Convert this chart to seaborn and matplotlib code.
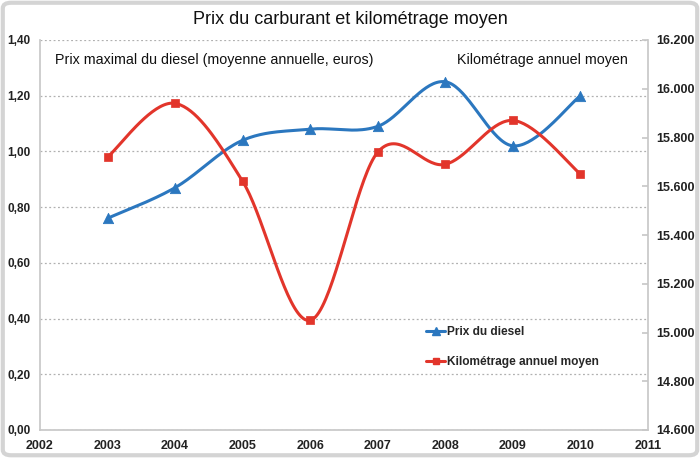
import numpy as np
import pandas as pd
import matplotlib
matplotlib.use("Agg")
import matplotlib.pyplot as plt
import seaborn as sns
from matplotlib.lines import Line2D
from matplotlib.patches import FancyBboxPatch
from matplotlib.ticker import FuncFormatter, MultipleLocator

years = [2003, 2004, 2005, 2006, 2007, 2008, 2009, 2010]
diesel_price = [0.76, 0.87, 1.04, 1.08, 1.09, 1.25, 1.02, 1.20]
km_moyen = [15720, 15940, 15620, 15050, 15740, 15690, 15870, 15650]

title = "Prix du carburant et kilométrage moyen"
left_label = "Prix maximal du diesel (moyenne annuelle, euros)"
right_label = "Kilométrage annuel moyen"
series_names = ["Prix du diesel", "Kilométrage annuel moyen"]

BLUE = "#2b77bf"
RED = "#e2352b"

sns.set_theme(style="white")
FAM = ['Liberation Sans', 'DejaVu Sans']
plt.rcParams['font.family'] = FAM


def smooth(xs, ys, n=40):
    x = np.asarray(xs, float)
    y = np.asarray(ys, float)
    P = np.column_stack([x, y])
    m = len(P)
    out = []
    t = np.linspace(0, 1, n)[:, None]
    for i in range(m - 1):
        p0 = P[max(i - 1, 0)]
        p1 = P[i]
        p2 = P[i + 1]
        p3 = P[min(i + 2, m - 1)]
        c1 = p1 + (p2 - p0) / 6
        c2 = p2 - (p3 - p1) / 6
        seg = ((1 - t) ** 3) * p1 + 3 * ((1 - t) ** 2) * t * c1 + 3 * (1 - t) * t ** 2 * c2 + t ** 3 * p2
        out.append(seg if i == 0 else seg[1:])
    s = np.vstack(out)
    return s[:, 0], s[:, 1]


fig = plt.figure(figsize=(7, 4.58), dpi=100)
fig.patch.set_facecolor("white")
border = FancyBboxPatch((0.004, 0.006), 0.992, 0.988, boxstyle="round,pad=0,rounding_size=0.012",
                        transform=fig.transFigure, fill=False, edgecolor="#d4d4d4", linewidth=3)
fig.patches.append(border)

ax = fig.add_axes([40 / 700, 28 / 458, 608 / 700, 390 / 458])
ax2 = ax.twinx()

# Diesel (left axis)
sx, sy = smooth(years, diesel_price)
sns.lineplot(x=sx, y=sy, ax=ax, color=BLUE, linewidth=2.2, sort=False, estimator=None)
sns.scatterplot(x=years, y=diesel_price, ax=ax, color=BLUE, marker="^", s=55, edgecolor=BLUE, zorder=5)

# Km (right axis)
kx, ky = smooth(years, km_moyen)
sns.lineplot(x=kx, y=ky, ax=ax2, color=RED, linewidth=2.2, sort=False, estimator=None)
sns.scatterplot(x=years, y=km_moyen, ax=ax2, color=RED, marker="s", s=40, edgecolor=RED, zorder=5)

ax.set_xlim(2002, 2011)
ax.set_ylim(0, 1.4)
ax2.set_ylim(14600, 16200)
ax.xaxis.set_major_locator(MultipleLocator(1))
ax.yaxis.set_major_locator(MultipleLocator(0.2))
ax2.yaxis.set_major_locator(MultipleLocator(200))
ax.yaxis.set_major_formatter(FuncFormatter(lambda v, p: f"{v:.2f}".replace(".", ",")))
ax2.yaxis.set_major_formatter(FuncFormatter(lambda v, p: f"{v/1000:.3f}"))
ax.xaxis.set_major_formatter(FuncFormatter(lambda v, p: f"{int(round(v))}"))

ax.grid(axis="y", color="#b0b0b0", linestyle=(0, (1.5, 2)), linewidth=0.9)
ax.set_axisbelow(True)

for a in (ax, ax2):
    for sp in a.spines.values():
        sp.set_visible(False)
    a.set_xlabel("")
    a.set_ylabel("")
ax.spines["bottom"].set_visible(True)
ax.spines["bottom"].set_color("#c8c8c8")
ax.spines["left"].set_visible(True)
ax.spines["left"].set_color("#c8c8c8")
ax2.spines["right"].set_visible(True)
ax2.spines["right"].set_color("#c8c8c8")

ax.tick_params(axis="x", direction="in", length=4, color="#c8c8c8", pad=7, labelsize=9)
ax.tick_params(axis="y", length=0, pad=7, labelsize=8.5)
ax2.tick_params(axis="y", direction="in", length=4, color="#c8c8c8", pad=6, labelsize=9)
for lbl in ax.get_xticklabels() + ax.get_yticklabels() + ax2.get_yticklabels():
    lbl.set_fontweight("bold")
    lbl.set_color("#222222")

fig.text(0.5, 1 - 19 / 458, title, ha="center", va="center", fontsize=13, color="#111111")
fig.text(55 / 700, 1 - 60 / 458, left_label, ha="left", va="center", fontsize=10.3, color="#111111")
fig.text(628 / 700, 1 - 60 / 458, right_label, ha="right", va="center", fontsize=10.3, color="#111111")

handles = [
    Line2D([0], [0], color=BLUE, linewidth=2.2, marker="^", markersize=6),
    Line2D([0], [0], color=RED, linewidth=2.2, marker="s", markersize=5),
]
leg = ax.legend(handles, series_names, loc="upper left", bbox_to_anchor=((418 - 40) / 608, (430 - 318) / 390),
                frameon=False, handlelength=1.6, handletextpad=0.15, labelspacing=1.45, borderpad=0.2,
                prop=dict(weight="bold", size=8.6))

fig.savefig("out.png", dpi=100, facecolor="white")
